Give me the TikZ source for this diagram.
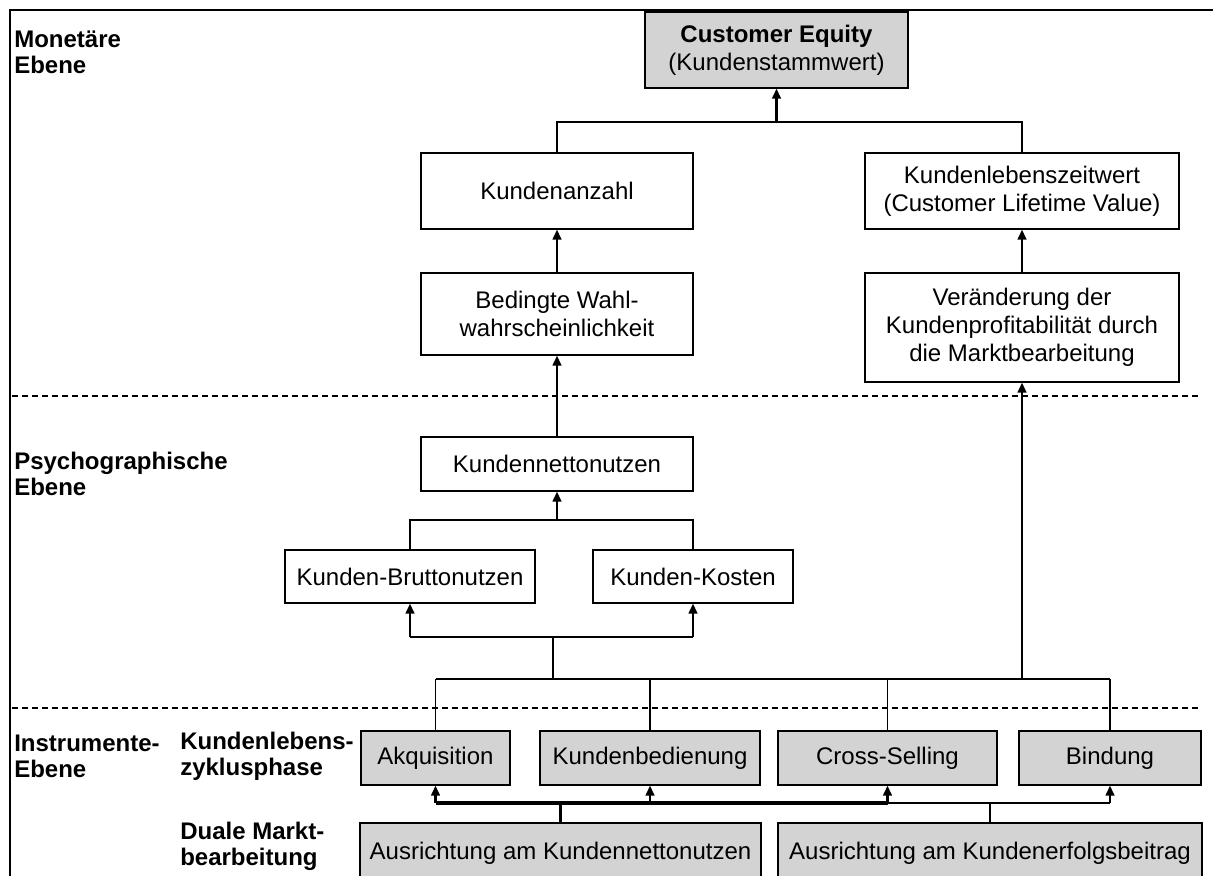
\documentclass[tikz,border=0pt]{standalone}
\usepackage{fontspec}
\setmainfont{Liberation Sans}
\usetikzlibrary{arrows.meta}
\definecolor{boxgray}{RGB}{211,211,211}
\begin{document}
\begin{tikzpicture}[x=0.75pt,y=-0.75pt,
  box/.style={draw=black, line width=0.9pt, fill=white, inner sep=0pt, align=center,
              font=\fontsize{18}{21}\selectfont},
  gbox/.style={box, fill=boxgray},
  lbl/.style={anchor=west, align=left, inner sep=0pt, font=\fontsize{18}{19.5}\selectfont\bfseries},
  conn/.style={line width=1.6pt},
  heavyconn/.style={line width=2.4pt},
  thinconn/.style={line width=1.1pt},
  arr/.style={-{Triangle[length=7.5pt,width=6.5pt]}},
  sepline/.style={dash pattern=on 4.5pt off 3pt, line width=0.8pt},
]
\useasboundingbox (0,0) rectangle (1213,875);
\clip (0,0) rectangle (1213,875);

% frame
\draw[line width=2pt] (10,890) -- (10,10) -- (1220,10);

% separators
\draw[sepline] (12,396) -- (1200,396);
\draw[sepline] (12,708) -- (1200,708);

% bus coordinates
\coordinate (busA) at (0,122);
\coordinate (busB) at (0,520);
\coordinate (busC) at (0,637);
\coordinate (busD) at (0,679);
\coordinate (busE) at (0,803);
\coordinate (stub) at (553,0);

% labels
\node[lbl] (l1) at (14,52) {Monetäre\\Ebene};
\node[lbl] (l2) at (14,474) {Psychographische\\Ebene};
\node[lbl] (l3) at (14,756) {Instrumente-\\Ebene};
\node[lbl] (l4) at (180,756) {Kundenlebens-\\zyklusphase};
\node[lbl] (l5) at (180,846) {Duale Markt-\\bearbeitung};

% boxes
\node[gbox, minimum width=197.25pt, minimum height=57pt] (ce) at (776.5,50)
  {\textbf{Customer Equity}\\(Kundenstammwert)};
\node[box, minimum width=204pt, minimum height=57pt] (ka) at (557,191) {Kundenanzahl};
\node[box, minimum width=235.5pt, minimum height=57pt] (klw) at (1022,191)
  {Kundenlebenszeitwert\\(Customer Lifetime Value)};
\node[box, minimum width=204pt, minimum height=61.5pt] (bw) at (557,314)
  {Bedingte Wahl-\\wahrscheinlichkeit};
\node[box, minimum width=235.5pt, minimum height=81.75pt] (vk) at (1022,327.5)
  {Veränderung der\\Kundenprofitabilität durch\\die Marktbearbeitung};
\node[box, minimum width=204pt, minimum height=40.5pt] (knn) at (557,464) {Kundennettonutzen};
\node[box, minimum width=187.5pt, minimum height=39.75pt] (kb) at (410,576.5) {Kunden-Bruttonutzen};
\node[box, minimum width=150pt, minimum height=39.75pt] (kk) at (693,576.5) {Kunden-Kosten};

\node[gbox, minimum width=111.75pt, minimum height=40.5pt] (akq) at (435.5,758) {Akquisition};
\node[gbox, minimum width=165pt, minimum height=40.5pt] (kbd) at (650,758) {Kundenbedienung};
\node[gbox, minimum width=164.25pt, minimum height=40.5pt] (cs) at (887.5,758) {Cross-Selling};
\node[gbox, minimum width=136.5pt, minimum height=40.5pt] (bind) at (1110,758) {Bindung};
\node[gbox, minimum width=300.75pt, minimum height=45pt] (ank) at (560.5,853)
  {Ausrichtung am Kundennettonutzen};
\node[gbox, minimum width=318pt, minimum height=45pt] (ake) at (990,853)
  {Ausrichtung am Kundenerfolgsbeitrag};

% monetary level
\draw[conn] (ka.north) |- (busA -| klw.north) -- (klw.north);
\draw[conn,arr] (ce.south |- busA) -- (ce.south);
\draw[conn,arr] (bw.north) -- (ka.south);
\draw[conn,arr] (vk.north) -- (klw.south);
\draw[conn,arr] (knn.north) -- (bw.south);

% psychographic level
\draw[conn] (kb.north) |- (busB -| kk.north) -- (kk.north);
\draw[conn,arr] (knn.south |- busB) -- (knn.south);
\draw[conn] (kb.south |- busC) -- (kk.south |- busC);
\draw[conn,arr] (kb.south |- busC) -- (kb.south);
\draw[conn,arr] (kk.south |- busC) -- (kk.south);
\draw[conn] (stub |- busD) -- (stub |- busC);

% lifecycle bus
\draw[conn] (akq.north |- busD) -- (bind.north |- busD);
\draw[thinconn] (akq.north) -- (akq.north |- busD);
\draw[thinconn] (kbd.north) -- (kbd.north |- busD);
\draw[thinconn] (cs.north) -- (cs.north |- busD);
\draw[thinconn] (bind.north) -- (bind.north |- busD);
\draw[conn,arr] (vk.south |- busD) -- (vk.south);

% dual market processing
\draw[heavyconn] (ank.north) -- (ank.north |- busE);
\draw[heavyconn] (akq.south |- busE) -- (cs.south |- busE);
\draw[conn,arr] (akq.south |- busE) -- (akq.south);
\draw[conn,arr] (kbd.south |- busE) -- (kbd.south);
\draw[thinconn] (ake.north) -- (ake.north |- busE);
\draw[thinconn] (cs.south |- busE) -- (bind.south |- busE);
\draw[conn,arr] (cs.south |- busE) -- (cs.south);
\draw[conn,arr] (bind.south |- busE) -- (bind.south);
\end{tikzpicture}
\end{document}
